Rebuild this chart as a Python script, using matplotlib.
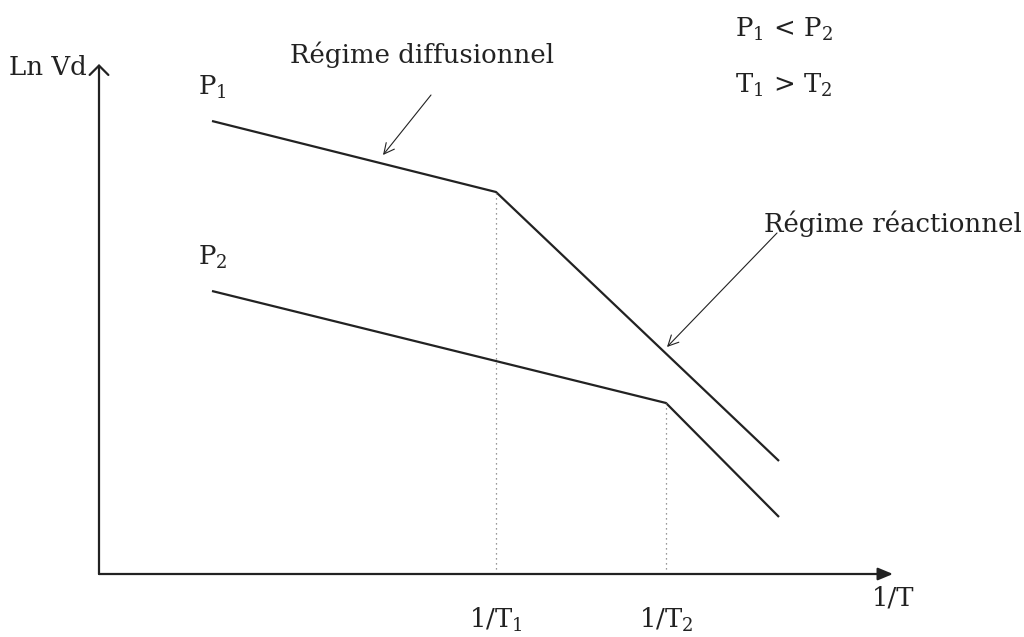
import matplotlib
matplotlib.use("Agg")
import matplotlib.pyplot as plt

plt.rcParams['font.family'] = ['DejaVu Serif']
plt.rcParams['mathtext.fontset'] = 'dejavuserif'

# courbes schématiques (unités arbitraires, origine au croisement des axes)
p1_x = [113, 397, 680]
p1_y = [453, 382, 113]
p2_x = [113, 567, 680]
p2_y = [283, 171, 57]

x_axis_end = 794
y_axis_end = 510

inv_T1 = 397
inv_T2 = 567

col = '#222222'
fs = 18.7

fig = plt.figure(figsize=(10.24, 6.37), dpi=100)
ax = fig.add_axes([0, 0, 1, 1])
ax.set_xlim(-99, 925)
ax.set_ylim(-63, 574)
ax.axis('off')

# axes avec flèches
ax.annotate('', xy=(x_axis_end, 0), xytext=(0, 0),
            arrowprops=dict(arrowstyle='-|>,head_length=0.6,head_width=0.25',
                            color=col, lw=1.6, mutation_scale=15,
                            shrinkA=0, shrinkB=0))
ax.annotate('', xy=(0, y_axis_end), xytext=(0, 0),
            arrowprops=dict(arrowstyle='->,head_length=0.45,head_width=0.45',
                            color=col, lw=1.6, mutation_scale=15,
                            shrinkA=0, shrinkB=0))

ax.plot(p1_x, p1_y, color=col, lw=1.6, solid_capstyle='butt')
ax.plot(p2_x, p2_y, color=col, lw=1.6, solid_capstyle='butt')

# pointillés
ax.plot([inv_T1, inv_T1], [0, p1_y[1]], color='#777777', lw=0.9, ls=(0, (1, 3)))
ax.plot([inv_T2, inv_T2], [0, p2_y[1]], color='#777777', lw=0.9, ls=(0, (1, 3)))

# textes
ax.text(-12, 499, 'Ln Vd', fontsize=fs, ha='right', va='baseline', color=col)
ax.text(99, 479, r'P$_1$', fontsize=fs, ha='left', va='baseline', color=col)
ax.text(99, 309, r'P$_2$', fontsize=fs, ha='left', va='baseline', color=col)
ax.text(636, 537, r'P$_1$ < P$_2$', fontsize=fs, ha='left', va='baseline', color=col)
ax.text(636, 481, r'T$_1$ > T$_2$', fontsize=fs, ha='left', va='baseline', color=col)
ax.text(773, -32, '1/T', fontsize=fs, ha='left', va='baseline', color=col)
ax.text(inv_T1, -54, r'1/T$_1$', fontsize=fs, ha='center', va='baseline', color=col)
ax.text(inv_T2, -54, r'1/T$_2$', fontsize=fs, ha='center', va='baseline', color=col)

ax.text(191, 511, 'Régime diffusionnel', fontsize=fs, ha='left', va='baseline', color=col)
ax.annotate('', xy=(284, 419), xytext=(332, 479),
            arrowprops=dict(arrowstyle='->,head_length=0.5,head_width=0.25',
                            color=col, lw=0.8, mutation_scale=15,
                            shrinkA=0, shrinkB=0))

ax.text(665, 342, 'Régime réactionnel', fontsize=fs, ha='left', va='baseline', color=col)
ax.annotate('', xy=(568, 227), xytext=(678, 341),
            arrowprops=dict(arrowstyle='->,head_length=0.5,head_width=0.25',
                            color=col, lw=0.8, mutation_scale=15,
                            shrinkA=0, shrinkB=0))

fig.savefig('out.png', dpi=100, facecolor='white')
